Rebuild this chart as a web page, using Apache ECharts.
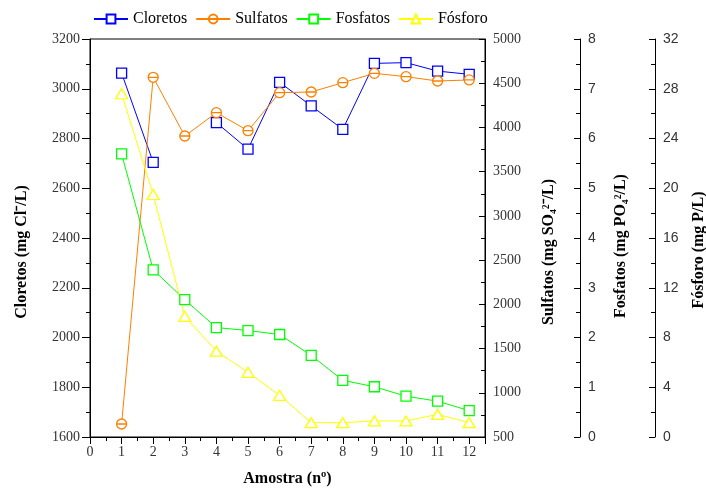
<!DOCTYPE html>
<html>
<head>
<meta charset="utf-8">
<script src="https://cdn.jsdelivr.net/npm/echarts@6/dist/echarts.min.js"></script>
<style>
html, body { margin: 0; padding: 0; background: #fff; }
#chart { width: 706px; height: 493px; }
</style>
</head>
<body>
<div id="chart"></div>
<script>
var amostras = [1, 2, 3, 4, 5, 6, 7, 8, 9, 10, 11, 12];
var cloretos = [3063, 2704, null, 2864, 2757, 3026, 2931, 2837, 3102, 3105, 3071, 3058];
var sulfatos = [647, 4567, 3903, 4167, 3963, 4393, 4401, 4506, 4612, 4574, 4525, 4537];
var fosfatos = [5.69, 3.36, 2.76, 2.20, 2.14, 2.06, 1.64, 1.14, 1.01, 0.82, 0.72, 0.53];
var fosforo = [27.6, 19.5, 9.7, 6.9, 5.2, 3.35, 1.15, 1.15, 1.29, 1.29, 1.82, 1.15];

function pares(vals) {
    var out = [];
    for (var i = 0; i < amostras.length; i++) {
        out.push([amostras[i], vals[i]]);
    }
    return out;
}

var serif = 'Liberation Serif';
var circuloRisco = 'path://M0,10 A10,10 0 1,1 20,10 A10,10 0 1,1 0,10 Z M0,10 L20,10';

function eixoY(nome, min, max, step, pos, offset, gap, fonte, desce) {
    return {
        type: 'value', position: pos, offset: offset,
        min: min, max: max, interval: step,
        name: nome, nameLocation: 'middle', nameGap: gap,
        nameTextStyle: { fontFamily: serif, fontWeight: 'bold', fontSize: 16, color: '#000',
            padding: [0, desce * 2, 0, 0] },
        axisLine: { show: true, lineStyle: { color: '#000', width: 1 } },
        axisTick: { show: true, inside: pos == 'right', length: pos == 'right' ? 6 : 8, lineStyle: { color: '#000' } },
        minorTick: { show: true, splitNumber: 2, length: 4, lineStyle: { color: '#000' } },
        axisLabel: { fontFamily: fonte, fontSize: 14, color: '#333', margin: pos == 'right' ? 8 : 10,
            formatter: function (v) { return String(v); } },
        splitLine: { show: false }
    };
}

var chart = echarts.init(document.getElementById('chart'));
chart.setOption({
    animation: false,
    backgroundColor: '#fff',
    legend: {
        top: 6, left: 88,
        itemWidth: 34, itemHeight: 11, itemGap: 8,
        textStyle: { fontFamily: serif, fontSize: 16, color: '#000' },
        data: ['Cloretos', 'Sulfatos', 'Fosfatos', 'Fósforo']
    },
    grid: { left: 90, top: 39, right: 221, bottom: 56, outerBoundsMode: 'none', containLabel: false,
        show: true, borderColor: '#000', borderWidth: 1 },
    xAxis: {
        type: 'value', min: 0, max: 12.5, interval: 1,
        name: 'Amostra (nº)', nameLocation: 'middle', nameGap: 34,
        nameTextStyle: { fontFamily: serif, fontWeight: 'bold', fontSize: 16, color: '#000' },
        axisLine: { lineStyle: { color: '#000' } },
        axisTick: { length: 7, lineStyle: { color: '#000' } },
        minorTick: { show: true, splitNumber: 2, length: 4, lineStyle: { color: '#000' } },
        axisLabel: { fontFamily: serif, fontSize: 14, color: '#333', showMaxLabel: false,
            formatter: function (v) { return v % 1 === 0 ? String(v) : ''; } },
        splitLine: { show: false }
    },
    yAxis: [
        eixoY('Cloretos (mg Cl⁻/L)', 1600, 3200, 200, 'left', 0, 60, serif, 14),
        eixoY('Sulfatos (mg SO₄²⁻/L)', 500, 5000, 500, 'right', 0, 56, serif, 14),
        eixoY('Fosfatos (mg PO₄²/L)', 0, 8, 1, 'right', 95, 33, 'Liberation Sans', 8),
        eixoY('Fósforo (mg P/L)', 0, 32, 4, 'right', 170, 36, 'Liberation Sans', 12)
    ],
    series: [
        {
            name: 'Cloretos', type: 'line', yAxisIndex: 0, data: pares(cloretos),
            connectNulls: false, symbol: 'rect', symbolSize: 10,
            lineStyle: { color: '#0000ff', width: 1 },
            itemStyle: { color: '#fff', borderColor: '#0000ff', borderWidth: 1.3 }
        },
        {
            name: 'Sulfatos', type: 'line', yAxisIndex: 1, data: pares(sulfatos),
            symbol: circuloRisco, symbolSize: 10,
            lineStyle: { color: '#ff8000', width: 1 },
            itemStyle: { color: '#fff', borderColor: '#ff8000', borderWidth: 1.3 }
        },
        {
            name: 'Fosfatos', type: 'line', yAxisIndex: 2, data: pares(fosfatos),
            symbol: 'rect', symbolSize: 10,
            lineStyle: { color: '#00ff00', width: 1 },
            itemStyle: { color: '#fff', borderColor: '#00ff00', borderWidth: 1.3 }
        },
        {
            name: 'Fósforo', type: 'line', yAxisIndex: 3, data: pares(fosforo),
            symbol: 'triangle', symbolSize: [12, 10],
            lineStyle: { color: '#ffff00', width: 1 },
            itemStyle: { color: '#fff', borderColor: '#ffff00', borderWidth: 1.3 }
        }
    ]
});
</script>
</body>
</html>
